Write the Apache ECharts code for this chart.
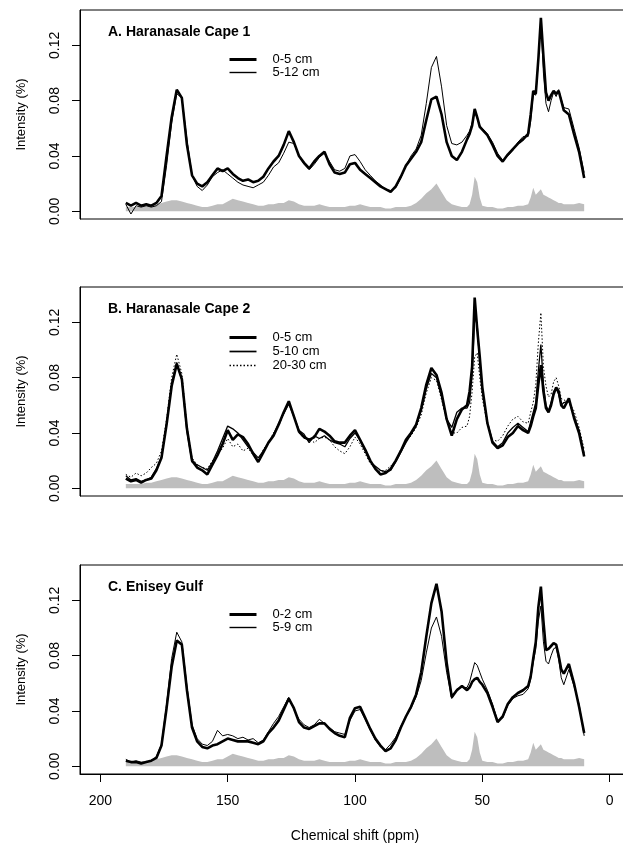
<!DOCTYPE html>
<html>
<head>
<meta charset="utf-8">
<script src="https://cdn.jsdelivr.net/npm/echarts@6/dist/echarts.min.js"></script>
<style>
  html, body { margin: 0; padding: 0; background: #fff; }
  #chart { width: 623px; height: 843px; }
</style>
</head>
<body>
<div id="chart"></div>
<script>
// chemical shift positions (ppm), shared by every spectrum
const ppm = [
  190,188,186,184,182,180,178,176,174,172,
  170,168,166,164,162,160,158,156,154,152,
  150,148,146,144,142,140,138,136,134,132,
  130,128,126,124,122,120,118,116,114,112,
  110,108,106,104,102,100,98,96,94,92,
  90,88,86,84,82,80,78,76,74,72,
  70,68,66,64,62,60,58,56,55,54,
  53,52,51,50,48,46,44,42,40,38,
  36,34,32,31,30,29,28,27,26,25,
  24,23,22,21,20,19,18,16,14,12,
  10
];

// grey reference spectrum (same in all three panels)
const refGray = [
  .003,.003,.003,.003,.004,.004,.005,.006,.007,.008,
  .008,.007,.006,.005,.004,.003,.003,.004,.005,.005,
  .007,.009,.008,.007,.006,.005,.004,.004,.005,.005,
  .006,.006,.008,.007,.005,.004,.004,.004,.005,.004,
  .003,.003,.003,.003,.004,.004,.005,.004,.003,.003,
  .003,.002,.002,.003,.003,.003,.004,.006,.009,.013,
  .016,.020,.014,.008,.005,.004,.003,.003,.005,.012,
  .025,.021,.010,.004,.003,.003,.002,.002,.003,.003,
  .004,.004,.005,.010,.017,.012,.014,.016,.012,.011,
  .010,.009,.008,.007,.006,.006,.005,.005,.005,.006,
  .005
];

// A. Haranasale Cape 1
const a0_5 = [
  .006,.004,.006,.004,.005,.004,.006,.011,.040,.068,
  .088,.082,.048,.026,.020,.018,.021,.026,.031,.029,
  .031,.027,.024,.022,.023,.021,.022,.025,.031,.036,
  .040,.048,.058,.050,.040,.035,.031,.036,.040,.043,
  .034,.028,.027,.028,.034,.035,.030,.027,.024,.021,
  .018,.016,.014,.018,.025,.033,.038,.043,.050,.066,
  .081,.083,.070,.050,.040,.037,.043,.052,.056,.062,
  .074,.068,.061,.059,.055,.048,.040,.036,.041,.045,
  .049,.052,.056,.070,.087,.085,.110,.140,.112,.086,
  .080,.084,.087,.085,.087,.080,.073,.070,.056,.043,
  .024
];
const a5_12 = [
  .005,-.002,.004,.003,.004,.003,.004,.007,.033,.064,
  .085,.082,.052,.026,.018,.015,.019,.025,.028,.030,
  .027,.024,.021,.019,.018,.017,.019,.021,.026,.032,
  .035,.042,.050,.049,.040,.034,.030,.034,.039,.042,
  .036,.030,.029,.031,.040,.041,.036,.030,.026,.022,
  .019,.016,.015,.017,.024,.033,.040,.045,.055,.078,
  .104,.112,.090,.062,.049,.048,.050,.055,.058,.064,
  .072,.067,.062,.060,.056,.050,.042,.037,.040,.044,
  .050,.054,.054,.065,.085,.084,.108,.137,.100,.078,
  .072,.080,.086,.083,.088,.081,.075,.074,.060,.046,
  .028
];

// B. Haranasale Cape 2
const b0_5 = [
  .007,.005,.006,.004,.006,.007,.013,.022,.046,.074,
  .090,.079,.043,.020,.015,.013,.010,.017,.024,.032,
  .042,.035,.039,.037,.032,.025,.019,.026,.033,.038,
  .046,.055,.063,.052,.041,.037,.035,.037,.043,.041,
  .038,.034,.033,.033,.038,.042,.035,.028,.020,.014,
  .010,.011,.014,.020,.027,.035,.040,.046,.058,.075,
  .087,.082,.069,.050,.038,.050,.057,.060,.070,.088,
  .138,.115,.095,.073,.047,.033,.029,.031,.037,.040,
  .045,.042,.040,.045,.052,.058,.075,.089,.070,.058,
  .055,.060,.068,.073,.070,.060,.058,.065,.051,.040,
  .023
];
const b5_10 = [
  .009,.006,.007,.005,.006,.008,.014,.023,.047,.076,
  .091,.078,.041,.019,.017,.015,.013,.019,.027,.036,
  .045,.043,.040,.035,.030,.026,.022,.027,.033,.039,
  .047,.054,.061,.052,.042,.039,.033,.038,.036,.038,
  .035,.033,.032,.030,.036,.040,.035,.027,.019,.016,
  .013,.012,.013,.019,.026,.033,.039,.045,.056,.072,
  .083,.080,.066,.050,.044,.055,.058,.058,.062,.082,
  .125,.118,.090,.070,.048,.034,.030,.033,.040,.044,
  .047,.044,.041,.048,.055,.062,.085,.104,.075,.060,
  .056,.062,.070,.072,.068,.060,.062,.063,.052,.042,
  .025
];
const b20_30 = [
  .010,.008,.011,.009,.011,.015,.018,.027,.050,.080,
  .097,.083,.045,.022,.017,.015,.014,.020,.024,.029,
  .036,.030,.032,.027,.029,.024,.020,.028,.033,.040,
  .045,.054,.062,.053,.040,.036,.036,.033,.036,.037,
  .035,.030,.027,.025,.030,.037,.032,.025,.018,.014,
  .012,.013,.016,.020,.028,.034,.038,.044,.053,.069,
  .080,.078,.064,.049,.040,.040,.044,.045,.052,.070,
  .095,.098,.080,.065,.046,.035,.034,.038,.045,.050,
  .052,.048,.047,.055,.062,.075,.105,.127,.088,.074,
  .066,.068,.077,.080,.074,.065,.064,.062,.056,.044,
  .028
];

// C. Enisey Gulf
const c0_2 = [
  .004,.003,.003,.002,.003,.004,.006,.015,.042,.072,
  .091,.088,.055,.028,.018,.014,.013,.015,.016,.018,
  .020,.019,.018,.018,.018,.017,.016,.018,.024,.028,
  .033,.041,.049,.042,.032,.028,.027,.029,.031,.031,
  .027,.024,.022,.021,.035,.042,.043,.035,.027,.020,
  .015,.011,.013,.019,.028,.036,.043,.052,.068,.094,
  .118,.132,.112,.075,.050,.055,.058,.055,.057,.061,
  .063,.064,.061,.059,.053,.043,.032,.036,.045,.050,
  .053,.055,.058,.065,.078,.090,.115,.130,.105,.084,
  .085,.087,.089,.088,.080,.070,.067,.074,.060,.043,
  .024
];
const c5_9 = [
  .005,.003,.004,.003,.003,.004,.007,.016,.045,.078,
  .097,.090,.058,.030,.020,.016,.015,.018,.026,.022,
  .023,.022,.020,.021,.019,.020,.017,.019,.025,.031,
  .036,.043,.050,.041,.034,.030,.028,.030,.034,.031,
  .028,.025,.024,.023,.033,.040,.041,.034,.026,.019,
  .014,.012,.016,.021,.029,.036,.042,.050,.062,.082,
  .100,.108,.094,.068,.049,.056,.057,.057,.061,.068,
  .075,.073,.068,.063,.055,.045,.033,.035,.044,.049,
  .051,.052,.056,.063,.075,.085,.105,.116,.090,.076,
  .074,.080,.085,.086,.077,.064,.059,.070,.058,.045,
  .022
];

const yTicks = [0, 0.04, 0.08, 0.12];
const xTicks = [0, 50, 100, 150, 200];

const panels = [
  { title: 'A. Haranasale Cape 1', top: 10, legendTop: 53, legendGap: 0,
    lines: [
      { name: '0-5 cm', data: a0_5, width: 2.6, type: 'solid' },
      { name: '5-12 cm', data: a5_12, width: 1, type: 'solid' }
    ] },
  { title: 'B. Haranasale Cape 2', top: 287, legendTop: 331, legendGap: 1,
    lines: [
      { name: '0-5 cm', data: b0_5, width: 2.6, type: 'solid' },
      { name: '5-10 cm', data: b5_10, width: 1.3, type: 'solid' },
      { name: '20-30 cm', data: b20_30, width: 1, type: [1.5, 2] }
    ] },
  { title: 'C. Enisey Gulf', top: 565, legendTop: 608, legendGap: 0,
    lines: [
      { name: '0-2 cm', data: c0_2, width: 2.6, type: 'solid' },
      { name: '5-9 cm', data: c5_9, width: 1, type: 'solid' }
    ] }
];

const pts = (vals) => ppm.map((x, i) => [x, vals[i]]);
const font = 'Liberation Sans, Arial, sans-serif';

const grids = [], xAxes = [], yAxes = [], series = [], titles = [], legends = [];

panels.forEach((p, i) => {
  const last = i === panels.length - 1;
  grids.push({ left: 80, top: p.top, width: 550, height: 209, outerBoundsMode: 'none',
    show: true, borderColor: '#000', borderWidth: 1, backgroundColor: 'transparent' });

  xAxes.push({
    gridIndex: i, type: 'value', min: -8, max: 208, inverse: true,
    axisLine: { show: last, onZero: false, lineStyle: { color: '#000', width: 1 } },
    splitLine: { show: false },
    axisTick: { show: last, customValues: xTicks, length: 8, lineStyle: { color: '#000' } },
    axisLabel: { show: last, customValues: xTicks, margin: 20, color: '#000', fontSize: 14, fontFamily: font },
    name: last ? 'Chemical shift (ppm)' : '', nameLocation: 'middle', nameGap: 55,
    nameTextStyle: { color: '#000', fontSize: 14, fontFamily: font }
  });

  yAxes.push({
    gridIndex: i, type: 'value', min: -0.0056, max: 0.1456,
    axisLine: { show: true, onZero: false, lineStyle: { color: '#000', width: 1 } },
    splitLine: { show: false },
    axisTick: { show: true, customValues: yTicks, length: 8, lineStyle: { color: '#000' } },
    axisLabel: { customValues: yTicks, rotate: 90, margin: 18, color: '#000', fontSize: 14,
      fontFamily: font, formatter: (v) => v.toFixed(2) },
    name: 'Intensity (%)', nameLocation: 'middle', nameRotate: 90, nameGap: 52,
    nameTextStyle: { color: '#000', fontSize: 13, fontFamily: font }
  });

  series.push({
    type: 'line', xAxisIndex: i, yAxisIndex: i, data: pts(refGray),
    symbol: 'none', lineStyle: { width: 0 }, areaStyle: { color: '#bebebe', opacity: 1 },
    silent: true, z: 1
  });

  p.lines.slice().reverse().forEach((l) => {
    series.push({
      name: l.name, type: 'line', xAxisIndex: i, yAxisIndex: i, data: pts(l.data),
      symbol: 'none', itemStyle: { color: '#000' },
      lineStyle: { color: '#000', width: l.width, type: l.type }, z: 3
    });
  });

  titles.push({ text: p.title, left: 108, top: p.top + 15, padding: 0,
    textStyle: { fontSize: 14, fontWeight: 'bold', color: '#000', fontFamily: font } });

  legends.push({
    orient: 'vertical', left: 228, top: p.legendTop, padding: 0, itemGap: p.legendGap,
    itemWidth: 27, itemHeight: 13, selectedMode: false,
    data: p.lines.map((l) => ({ name: l.name,
      itemStyle: { color: 'rgba(0,0,0,0)', borderWidth: 0 },
      lineStyle: { color: '#000', width: l.width + 0.4, type: l.type } })),
    formatter: (name) => '{g|}' + name,
    textStyle: { fontSize: 13, color: '#000', fontFamily: font,
      rich: { g: { width: 11 } } }
  });
});

const chart = echarts.init(document.getElementById('chart'), null, { renderer: 'canvas' });
chart.setOption({
  animation: false,
  backgroundColor: '#fff',
  title: titles,
  legend: legends,
  grid: grids,
  xAxis: xAxes,
  yAxis: yAxes,
  series: series
});
</script>
</body>
</html>
